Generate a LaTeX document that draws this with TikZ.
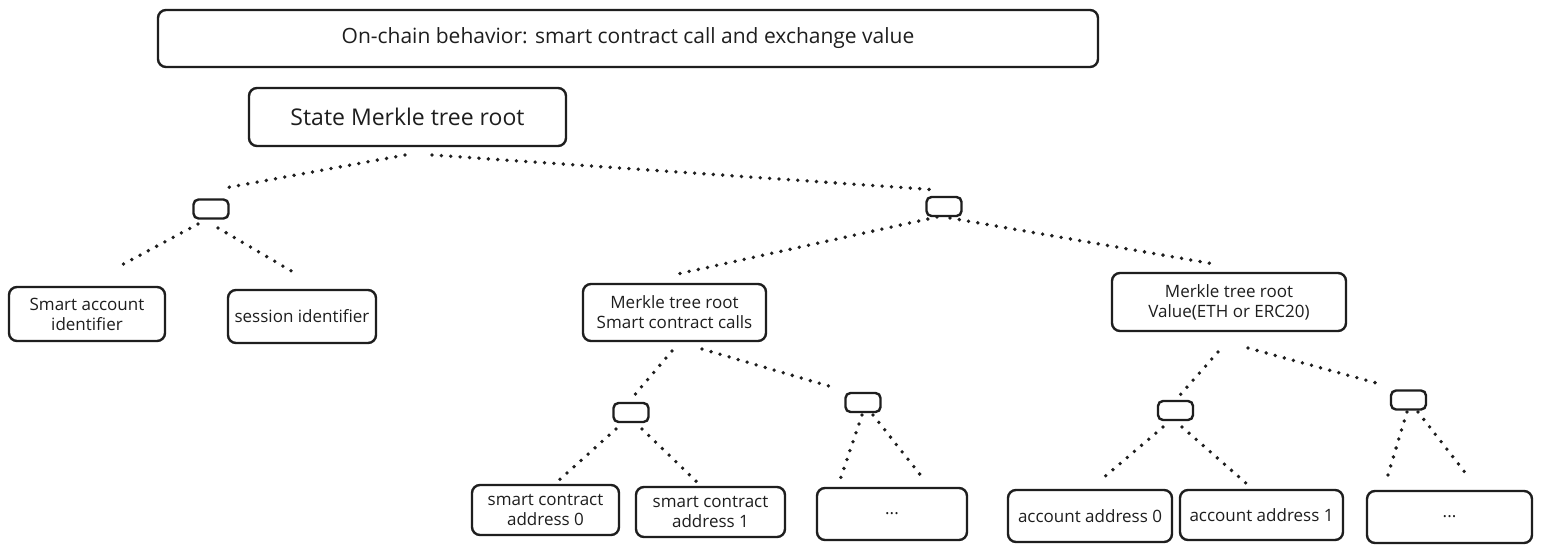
\documentclass[tikz,border=0pt]{standalone}
\usepackage{fontspec}
\setmainfont{Open Sans}
\begin{document}
\begin{tikzpicture}[x=0.5pt,y=-0.5pt]
\definecolor{ink}{HTML}{1E1E1E}
\tikzset{
  box/.style={draw=ink, line width=1.2pt, rounded corners=4pt, align=center, text=ink, inner sep=0pt, font=\fontsize{8.5}{10}\selectfont},
  knot/.style={draw=ink, line width=1.2pt, rounded corners=2.5pt, inner sep=0pt, minimum width=17.5pt, minimum height=9.5pt},
  dotline/.style={draw=ink, line width=1.9pt, line cap=round, dash pattern=on 0pt off 4.7pt},
}
\useasboundingbox[fill=white] (0,0) rectangle (1541,551);

% boxes
\node[box, minimum width=470pt, minimum height=28.5pt, font=\fontsize{10.5}{12}\selectfont] (title) at (628,38.5) {On-chain behavior: smart contract call and exchange value};
\node[box, minimum width=158.5pt, minimum height=29pt, font=\fontsize{11.5}{13}\selectfont] (root) at (407.5,117) {State Merkle tree root};
\node[knot] (ka) at (211,209) {};
\node[knot] (kb) at (944,206.5) {};
\node[box, minimum width=78pt, minimum height=27pt] (sai) at (87,314) {Smart account\\identifier};
\node[box, minimum width=74pt, minimum height=26.5pt] (sess) at (302,316.5) {session identifier};
\node[box, minimum width=91.5pt, minimum height=28.5pt] (calls) at (674.5,312.5) {Merkle tree root\\Smart contract calls};
\node[box, minimum width=117pt, minimum height=29pt] (value) at (1229,302) {Merkle tree root\\Value(ETH or ERC20)};
\node[knot] (kc) at (631,412.5) {};
\node[knot] (kd) at (863,402.5) {};
\node[box, minimum width=73.5pt, minimum height=25pt] (sc0) at (545.5,510) {smart contract\\address 0};
\node[box, minimum width=74.5pt, minimum height=25pt] (sc1) at (710.5,512) {smart contract\\address 1};
\node[box, minimum width=75pt, minimum height=26pt] (more1) at (892,514) {...};
\node[knot] (ke) at (1175.5,410.5) {};
\node[knot] (kf) at (1408.5,400) {};
\node[box, minimum width=82pt, minimum height=26pt] (acc0) at (1090,516) {account address 0};
\node[box, minimum width=81.5pt, minimum height=25pt] (acc1) at (1261.5,515) {account address 1};
\node[box, minimum width=82.5pt, minimum height=26pt] (more2) at (1449.5,517) {...};

% connector ends
\coordinate (c1a) at (405,155);  \coordinate (c1b) at (225,188);
\coordinate (c2a) at (432,155);  \coordinate (c2b) at (938,190);
\coordinate (c3a) at (198,224);  \coordinate (c3b) at (118,267);
\coordinate (c4a) at (218,228);  \coordinate (c4b) at (293,272);
\coordinate (c5a) at (937,217);  \coordinate (c5b) at (673,275);
\coordinate (c6a) at (950,218);  \coordinate (c6b) at (1214,264);
\coordinate (c7a) at (672,351);  \coordinate (c7b) at (632,398);
\coordinate (c8a) at (702,349);  \coordinate (c8b) at (832,387);
\coordinate (c9a) at (616,429);  \coordinate (c9b) at (557,482);
\coordinate (c10a) at (642,429); \coordinate (c10b) at (700,485);
\coordinate (c11a) at (862,415); \coordinate (c11b) at (840,480);
\coordinate (c12a) at (873,415); \coordinate (c12b) at (922,477);
\coordinate (c13a) at (1218,352); \coordinate (c13b) at (1180,395);
\coordinate (c14a) at (1248,348); \coordinate (c14b) at (1380,384);
\coordinate (c15a) at (1163,427); \coordinate (c15b) at (1102,479);
\coordinate (c16a) at (1182,427); \coordinate (c16b) at (1247,484);
\coordinate (c17a) at (1407,412); \coordinate (c17b) at (1387,478);
\coordinate (c18a) at (1418,412); \coordinate (c18b) at (1467,475);

\foreach \i in {1,...,18} {
  \draw[dotline] (c\i a) -- (c\i b);
}
\end{tikzpicture}
\end{document}
